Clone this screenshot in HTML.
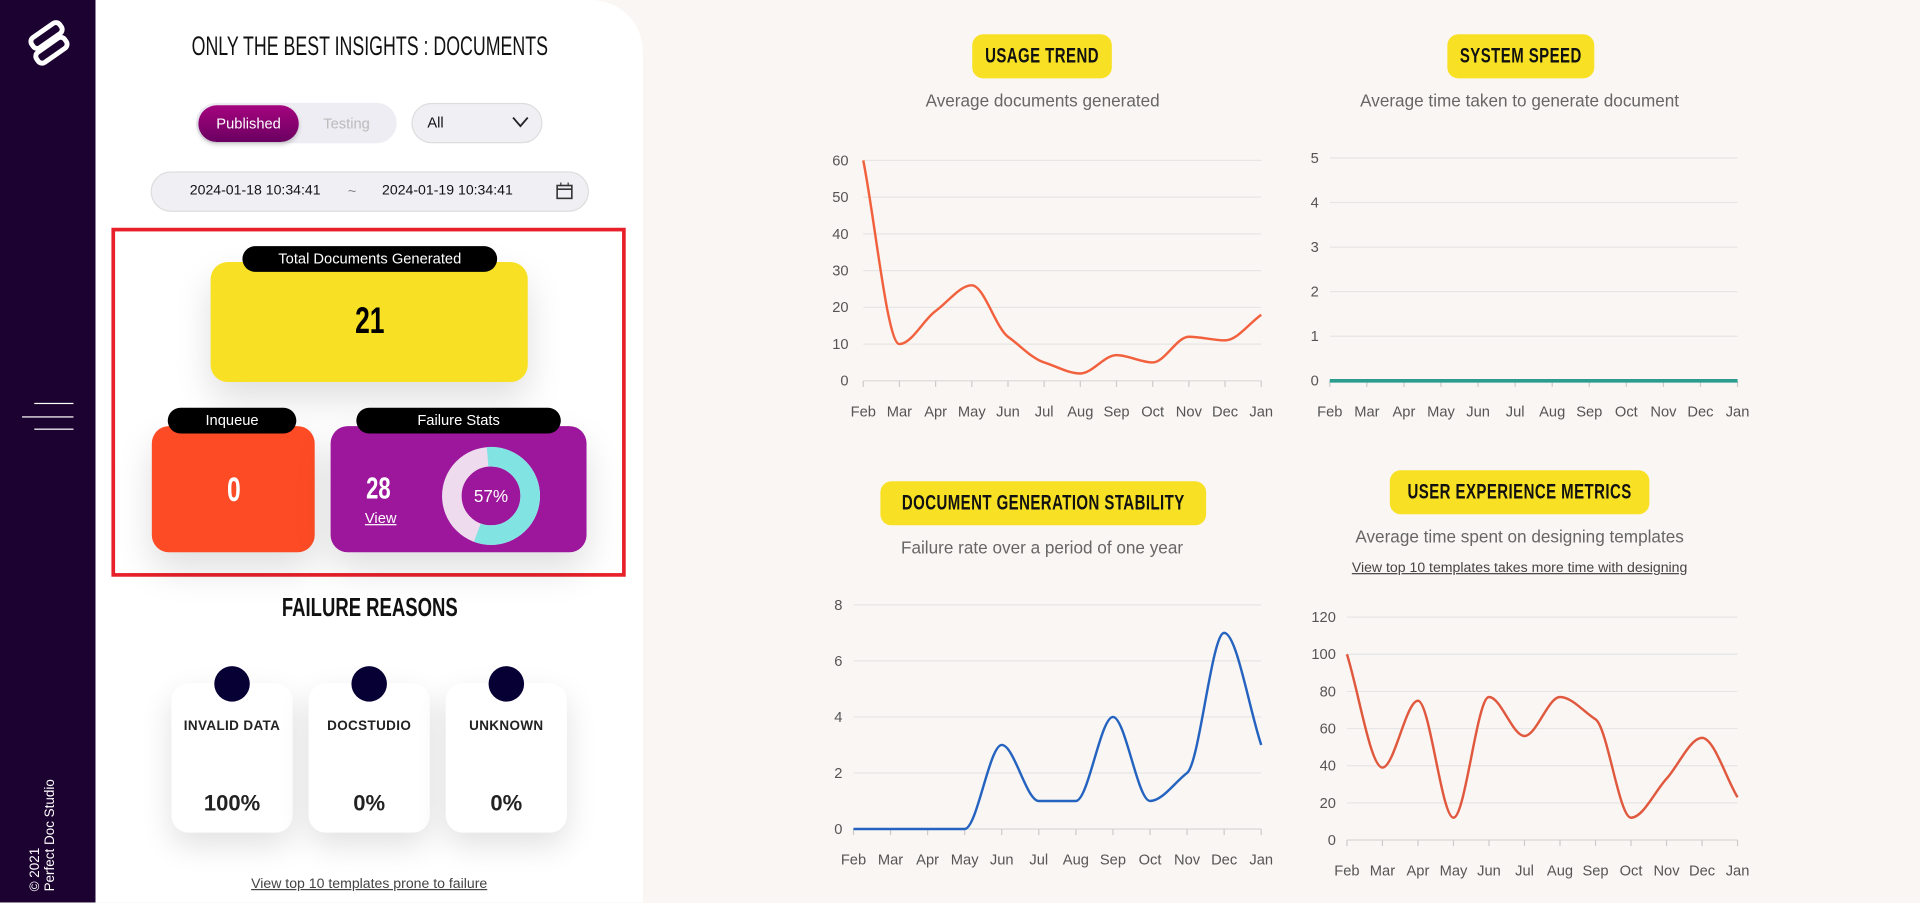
<!DOCTYPE html>
<html><head><meta charset="utf-8">
<style>
html,body{margin:0;padding:0;width:1920px;height:903px;overflow:hidden;background:#faf6f3;}
#w{position:absolute;left:0;top:0;width:1568px;height:737px;transform:scale(1.22449);transform-origin:0 0;font-family:"Liberation Sans",sans-serif;}
.a{position:absolute;}
.c{text-align:center;}
.cd{display:block;width:500px;margin-left:calc(50% - 250px);text-align:center;white-space:nowrap;transform:scaleX(0.72);}
.pill{position:absolute;background:#000;color:#fff;border-radius:11px;font-size:12px;text-align:center;line-height:21px;white-space:nowrap;}
.badge{position:absolute;background:#f8e124;border-radius:9px;font-weight:bold;font-size:17px;letter-spacing:0.5px;text-align:center;color:#111;line-height:36px;white-space:nowrap;}
.sub{position:absolute;color:#666;font-size:14px;text-align:center;white-space:nowrap;}
.fr{position:absolute;background:#fff;border-radius:14px;box-shadow:0 10px 25px rgba(0,0,0,0.12);width:99px;height:122px;top:558px;}
.fr .dot{position:absolute;left:35px;top:-14px;width:29px;height:29px;border-radius:50%;background:#070035;}
.fr .l{position:absolute;top:29px;width:100%;text-align:center;font-weight:bold;font-size:11px;color:#222;letter-spacing:0.3px;}
.fr .v{position:absolute;top:88px;width:100%;text-align:center;font-weight:bold;font-size:18px;color:#222;}
</style></head><body>
<div id="w">
<div class="a" style="left:0;top:0;width:78px;height:737px;background:#1c0230;"></div>
<svg class="a" style="left:18px;top:16px" width="42" height="40" viewBox="0 0 42 40">
<g fill="none" stroke="#fff" stroke-width="4" stroke-linejoin="round">
<rect x="6" y="8" width="28" height="10" rx="4" transform="rotate(-35 20 13)"/>
<rect x="10" y="20" width="28" height="10" rx="4" transform="rotate(-35 24 25)"/>
</g></svg>
<div class="a" style="left:28px;top:329px;width:32px;height:1px;background:#fff"></div>
<div class="a" style="left:18px;top:340px;width:42px;height:1px;background:#fff"></div>
<div class="a" style="left:28px;top:350px;width:32px;height:1px;background:#fff"></div>
<div class="a" style="left:-15px;top:662px;width:104px;height:28px;transform:rotate(-90deg);color:#fff;font-size:11px;line-height:12px;white-space:nowrap;">© 2021<br>Perfect Doc Studio</div>

<div class="a" style="left:78px;top:0;width:447px;height:737px;background:#fff;border-top-right-radius:42px;"></div>
<div class="a" style="left:78px;width:447px;top:25px;font-size:22px;color:#111;"><span class="cd" style="transform:scaleX(0.66)">ONLY THE BEST INSIGHTS : DOCUMENTS</span></div>
<div class="a" style="left:160px;top:84px;width:164px;height:33px;border-radius:17px;background:#eeedf3;"></div>
<div class="a c" style="left:162px;top:86px;width:82px;height:30px;border-radius:15px;background:linear-gradient(#a5047f,#6a0060);color:#fff;font-size:12px;line-height:30px;box-shadow:0 2px 4px rgba(0,0,0,.2)">Published</div>
<div class="a" style="left:264px;top:94px;color:#bbb;font-size:12px;">Testing</div>
<div class="a" style="left:336px;top:84px;width:105px;height:31px;border-radius:17px;background:#f0eff4;border:1px solid #ddd;"></div>
<div class="a" style="left:349px;top:93px;font-size:12px;color:#111;">All</div>
<svg class="a" style="left:418px;top:95px" width="14" height="10"><path d="M1 1 L7 8 L13 1" fill="none" stroke="#222" stroke-width="1.5"/></svg>
<div class="a" style="left:123px;top:140px;width:356px;height:31px;border-radius:17px;background:#f0eff4;border:1px solid #ddd;"></div>
<div class="a" style="left:155px;top:150px;font-size:11.5px;color:#111;">2024-01-18 10:34:41</div>
<div class="a" style="left:284px;top:149px;font-size:12px;color:#888;">~</div>
<div class="a" style="left:312px;top:150px;font-size:11.5px;color:#111;">2024-01-19 10:34:41</div>
<svg class="a" style="left:454px;top:149px" width="14" height="14"><rect x="1" y="2.5" width="12" height="10.5" fill="none" stroke="#333" stroke-width="1.3"/><line x1="1" y1="5.5" x2="13" y2="5.5" stroke="#333" stroke-width="1.3"/><line x1="4" y1="0" x2="4" y2="3" stroke="#333"/><line x1="10" y1="0" x2="10" y2="3" stroke="#333"/></svg>

<div class="a" style="left:91px;top:186px;width:414px;height:279px;border:3px solid #e8202a;"></div>
<div class="a" style="left:172px;top:214px;width:259px;height:98px;border-radius:14px;background:#f8e124;box-shadow:0 14px 30px rgba(0,0,0,.13)"></div>
<div class="pill" style="left:198px;top:201px;width:208px;">Total Documents Generated</div>
<div class="a" style="left:172px;width:259px;top:246px;font-size:30px;font-weight:bold;color:#000;"><span class="cd">21</span></div>
<div class="a" style="left:124px;top:348px;width:133px;height:103px;border-radius:14px;background:#fd4b25;box-shadow:0 14px 30px rgba(0,0,0,.13)"></div>
<div class="pill" style="left:137px;top:333px;width:105px;">Inqueue</div>
<div class="a" style="left:124px;width:133px;top:384px;font-size:28px;font-weight:bold;color:#fff;"><span class="cd">0</span></div>
<div class="a" style="left:270px;top:348px;width:209px;height:103px;border-radius:14px;background:#9c179c;box-shadow:0 14px 30px rgba(0,0,0,.13)"></div>
<div class="pill" style="left:291px;top:333px;width:167px;">Failure Stats</div>
<div class="a" style="left:289px;width:40px;top:385px;font-size:25px;font-weight:bold;color:#fff;"><span class="cd">28</span></div>
<div class="a" style="left:298px;top:416px;font-size:12px;color:#fff;text-decoration:underline;">View</div>
<svg class="a" style="left:358px;top:362px" width="86" height="86" viewBox="0 0 86 86">
<circle cx="43" cy="43" r="32" fill="none" stroke="#eedbee" stroke-width="16"/>
<circle cx="43" cy="43" r="32" fill="none" stroke="#82e3e3" stroke-width="16" stroke-dasharray="114.6 201" transform="rotate(-95 43 43)"/>
<text x="43" y="48" text-anchor="middle" fill="#fff" font-size="14" font-family="Liberation Sans">57%</text>
</svg>

<div class="a" style="left:78px;width:447px;top:485px;font-size:21px;font-weight:bold;color:#111;"><span class="cd">FAILURE REASONS</span></div>
<div class="fr" style="left:140px"><div class="dot"></div><div class="l">INVALID DATA</div><div class="v">100%</div></div>
<div class="fr" style="left:252px"><div class="dot"></div><div class="l">DOCSTUDIO</div><div class="v">0%</div></div>
<div class="fr" style="left:364px"><div class="dot"></div><div class="l">UNKNOWN</div><div class="v">0%</div></div>
<div class="a c" style="left:78px;width:447px;top:716px;font-size:11.5px;color:#444;"><span style="text-decoration:underline">View top 10 templates prone to failure</span></div>

<div class="badge" style="left:794px;top:28px;width:114px;height:36px;"><span class="cd">USAGE TREND</span></div>
<div class="sub" style="left:700px;width:303px;top:74px;">Average documents generated</div>
<div class="badge" style="left:1182px;top:28px;width:120px;height:36px;"><span class="cd">SYSTEM SPEED</span></div>
<div class="sub" style="left:1041px;width:400px;top:74px;">Average time taken to generate document</div>
<div class="badge" style="left:719px;top:393px;width:266px;height:36px;"><span class="cd">DOCUMENT GENERATION STABILITY</span></div>
<div class="sub" style="left:651px;width:400px;top:439px;">Failure rate over a period of one year</div>
<div class="badge" style="left:1135px;top:384px;width:212px;height:36px;"><span class="cd">USER EXPERIENCE METRICS</span></div>
<div class="sub" style="left:1041px;width:400px;top:430px;">Average time spent on designing templates</div>
<div class="a c" style="left:1041px;width:400px;top:458px;font-size:11.5px;color:#444;"><span style="text-decoration:underline">View top 10 templates takes more time with designing</span></div>

<svg id="sv" class="a" style="left:0;top:0" width="1568" height="737"></svg>
</div>
<script>
var M=['Feb','Mar','Apr','May','Jun','Jul','Aug','Sep','Oct','Nov','Dec','Jan'];
var s='';
function chart(o){
 var n=o.ticks.length;
 for(var i=0;i<n;i++){
  var y=o.y0+(o.y1-o.y0)*o.ticks[i]/o.max;
  s+='<line x1="'+o.x0+'" x2="'+o.x1+'" y1="'+y+'" y2="'+y+'" stroke="'+(o.ticks[i]==0?'#d8d8d8':'#e6e6e6')+'" stroke-width="1"/>';
  s+='<text x="'+o.lx+'" y="'+(y+4)+'" text-anchor="end" font-size="12" fill="#555" font-family="Liberation Sans">'+o.ticks[i]+'</text>';
 }
 var dx=(o.x1-o.x0)/11, P=[];
 for(var i=0;i<12;i++){
  var x=o.x0+dx*i;
  s+='<line x1="'+x+'" x2="'+x+'" y1="'+o.y0+'" y2="'+(o.y0+5)+'" stroke="#ccc"/>';
  s+='<text x="'+x+'" y="'+(o.y0+29)+'" text-anchor="middle" font-size="12" fill="#555" font-family="Liberation Sans">'+M[i]+'</text>';
  P.push([x,o.y0+(o.y1-o.y0)*o.d[i]/o.max]);
 }
 var sl=[],m=[];
 for(var i=0;i<11;i++)sl.push((P[i+1][1]-P[i][1])/dx);
 for(var i=0;i<12;i++){
  if(i==0)m.push(sl[0]);else if(i==11)m.push(sl[10]);
  else{var a=sl[i-1],b=sl[i];m.push(a*b<=0?0:(Math.sign(a)*Math.min(Math.abs(a),Math.abs(b),Math.abs((a+b)/2))));}
 }
 var d='M'+P[0][0]+' '+P[0][1];
 for(var i=0;i<11;i++){
  var h=dx/3;
  d+=' C'+(P[i][0]+h)+' '+(P[i][1]+m[i]*h)+' '+(P[i+1][0]-h)+' '+(P[i+1][1]-m[i+1]*h)+' '+P[i+1][0]+' '+P[i+1][1];
 }
 s+='<path d="'+d+'" fill="none" stroke="'+o.c+'" stroke-width="'+(o.w||2)+'"/>';
}
chart({x0:705,x1:1030,y0:311,y1:131,max:60,ticks:[0,10,20,30,40,50,60],lx:693,d:[60,10,19,26,12,5,2,7,5,12,11,18],c:'#f2613e'});
chart({x0:1086,x1:1419,y0:311,y1:129,max:5,ticks:[0,1,2,3,4,5],lx:1077,d:[0,0,0,0,0,0,0,0,0,0,0,0],c:'#2a9d8f',w:3});
chart({x0:697,x1:1030,y0:677,y1:494,max:8,ticks:[0,2,4,6,8],lx:688,d:[0,0,0,0,3,1,1,4,1,2,7,3],c:'#2563c0'});
chart({x0:1100,x1:1419,y0:686,y1:504,max:120,ticks:[0,20,40,60,80,100,120],lx:1091,d:[100,39,75,12,77,56,77,65,12,33,55,23],c:'#e0583e'});
document.getElementById('sv').innerHTML=s;
</script>
</body></html>
